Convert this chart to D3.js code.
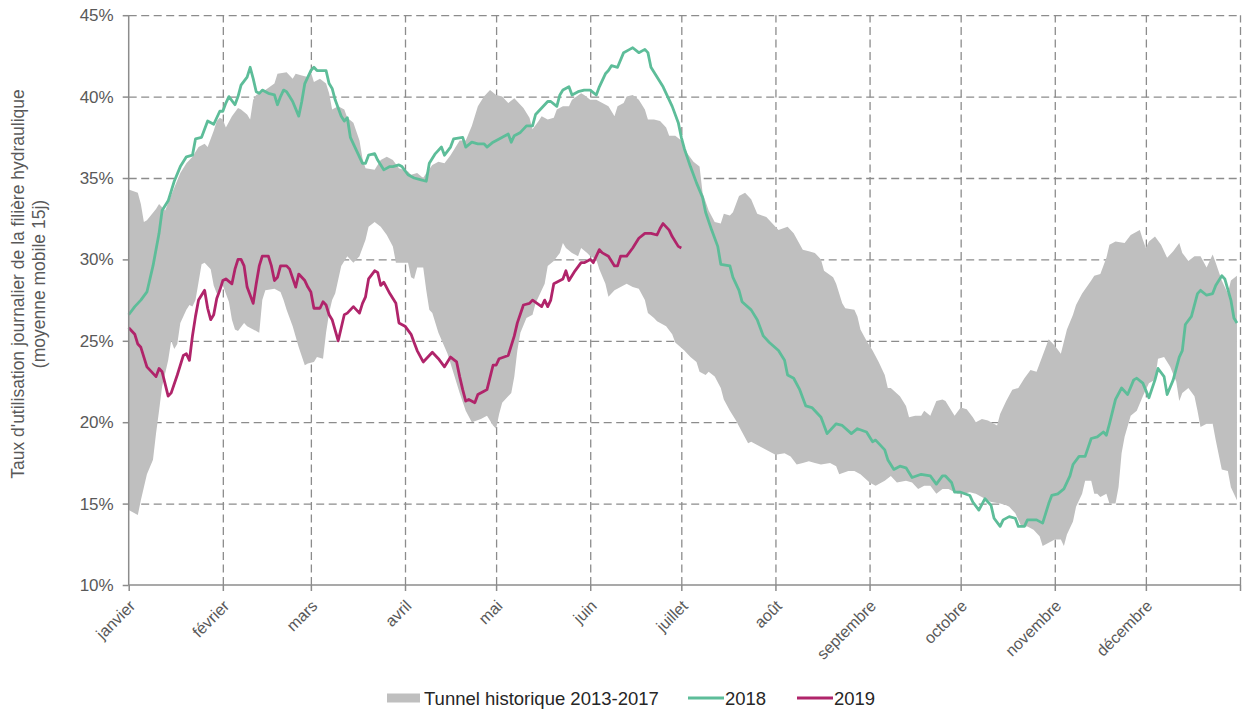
<!DOCTYPE html>
<html>
<head>
<meta charset="utf-8">
<script src="https://cdn.jsdelivr.net/npm/d3@7"></script>
<style>
  body { margin: 0; background: #fff; }
  text { font-family: "Liberation Sans", Arial, sans-serif; }
</style>
</head>
<body>
<div id="chart"></div>
<script>
// Taux d'utilisation de la filière hydraulique (jour de l'année, 0 = 1er janvier)

const moisJours = [0, 31, 60, 91, 121, 152, 182, 213, 244, 274, 305, 335, 366];
const moisLabels = ['janvier', 'février', 'mars', 'avril', 'mai', 'juin', 'juillet',
    'août', 'septembre', 'octobre', 'novembre', 'décembre'];
const yTicks = [10, 15, 20, 25, 30, 35, 40, 45];

// Tunnel historique 2013-2017 : bord haut
const hautJours = [0, 3, 4, 5, 6, 9, 10, 12, 15, 17, 19, 21, 23, 25, 26, 28, 29, 30, 31, 32, 34, 36, 37, 39, 40, 41, 42, 45, 48, 49,
    52, 54, 55, 57, 59, 60, 61, 63, 65, 66, 67, 69, 71, 72, 74, 76, 77, 78, 81, 83, 85, 87, 89, 92, 93, 95, 97, 98, 100, 102,
    104, 106, 109, 111, 113, 115, 117, 119, 121, 123, 125, 127, 128, 130, 132, 133, 135, 136, 138, 140, 141, 143, 145, 146, 149, 150, 152, 154, 156, 158,
    160, 161, 163, 164, 166, 168, 170, 171, 173, 175, 177, 178, 180, 182, 184, 186, 188, 189, 191, 193, 195, 196, 198, 199, 201, 203, 205, 207, 210, 212,
    214, 217, 219, 222, 224, 226, 228, 229, 232, 233, 235, 236, 239, 240, 241, 243, 245, 247, 249, 250, 251, 254, 256, 257, 259, 261, 262, 264, 266, 268,
    269, 272, 274, 276, 278, 279, 281, 283, 286, 287, 289, 291, 293, 295, 297, 299, 301, 303, 305, 307, 309, 311, 312, 314, 317, 318, 320, 322, 323, 325,
    328, 330, 333, 334, 335, 336, 338, 340, 342, 344, 346, 347, 349, 351, 353, 355, 357, 358, 360, 362, 363, 365];
const hautTaux = [34.3, 34.1, 33.4, 32.3, 32.4, 33.1, 33.4, 33.0, 34.4, 35.3, 35.9, 36.3, 36.9, 37.1, 36.9, 37.9, 38.5, 38.7, 38.6, 38.1, 38.8, 39.3, 39.2, 38.9, 38.6, 39.8, 40.1, 40.4, 40.8, 41.4,
    41.5, 41.1, 41.4, 41.3, 41.2, 41.5, 40.9, 41.1, 40.8, 40.2, 39.2, 39.4, 39.2, 38.7, 38.4, 37.3, 36.2, 35.6, 35.5, 36.1, 36.3, 36.1, 35.6, 35.4, 35.2, 35.3, 35.0, 35.3, 35.8, 36.0,
    35.9, 36.4, 37.3, 37.3, 38.2, 39.4, 40.0, 40.4, 40.1, 40.0, 39.6, 39.9, 39.7, 39.3, 38.7, 38.0, 38.5, 38.8, 38.6, 38.7, 39.2, 39.4, 39.4, 39.8, 40.2, 40.1, 39.8, 39.8, 39.6, 39.4,
    38.8, 39.4, 39.6, 40.0, 40.1, 39.8, 39.2, 38.6, 38.6, 38.5, 38.1, 37.6, 37.6, 37.3, 36.5, 36.0, 35.7, 34.1, 33.0, 32.3, 32.2, 32.8, 32.7, 32.9, 33.9, 34.1, 33.7, 32.8, 32.6, 32.2,
    31.8, 32.0, 31.6, 30.6, 30.5, 30.4, 30.0, 29.3, 28.9, 28.5, 27.3, 27.0, 26.9, 26.5, 25.7, 25.0, 24.4, 23.7, 22.9, 22.1, 22.1, 21.6, 21.0, 20.3, 20.4, 20.4, 20.7, 20.4, 21.3, 21.4,
    21.3, 20.4, 20.9, 20.8, 20.3, 20.0, 20.2, 20.1, 19.8, 20.5, 21.3, 22.0, 22.1, 22.7, 23.2, 23.1, 24.1, 25.1, 24.7, 24.2, 25.7, 26.6, 27.2, 27.9, 28.7, 29.0, 29.1, 30.1, 30.9, 31.1,
    31.0, 31.5, 31.8, 31.2, 30.7, 31.1, 31.4, 30.9, 30.1, 30.5, 31.0, 30.4, 29.9, 30.2, 30.2, 29.5, 30.3, 29.8, 28.7, 27.9, 28.7, 29.0];

// Tunnel historique 2013-2017 : bord bas
const basJours = [0, 3, 4, 5, 6, 8, 9, 10, 11, 13, 14, 15, 16, 17, 19, 20, 21, 22, 23, 24, 25, 26, 27, 28, 29, 30, 31, 33, 34, 35,
    36, 38, 39, 43, 44, 45, 48, 50, 51, 52, 54, 56, 58, 59, 61, 62, 64, 65, 66, 67, 68, 70, 72, 74, 76, 78, 79, 81, 83, 85,
    87, 88, 89, 92, 93, 94, 95, 97, 98, 99, 100, 102, 105, 107, 109, 111, 113, 116, 118, 120, 121, 122, 123, 126, 127, 128, 129, 131, 133, 134,
    137, 138, 140, 142, 143, 144, 146, 148, 149, 151, 152, 154, 155, 157, 158, 160, 162, 164, 166, 168, 170, 171, 173, 174, 177, 179, 180, 183, 185, 187,
    188, 190, 191, 193, 195, 196, 198, 200, 202, 204, 205, 207, 209, 211, 213, 216, 218, 220, 222, 224, 226, 228, 231, 233, 234, 237, 239, 241, 244, 246,
    249, 251, 253, 256, 258, 260, 262, 264, 266, 268, 270, 273, 275, 277, 279, 282, 284, 287, 289, 290, 292, 294, 296, 298, 300, 301, 303, 305, 307, 308,
    309, 311, 312, 314, 315, 317, 318, 319, 320, 322, 323, 325, 326, 327, 328, 330, 332, 334, 336, 338, 339, 341, 343, 345, 346, 347, 349, 351, 352, 353,
    355, 357, 358, 360, 362, 363, 365];
const basTaux = [14.6, 14.3, 15.2, 16.0, 16.8, 17.7, 19.3, 20.7, 22.2, 23.8, 25.0, 24.5, 24.8, 26.1, 26.9, 27.2, 27.1, 27.5, 28.6, 29.7, 29.8, 29.6, 29.4, 28.4, 27.9, 28.1, 28.4, 27.4, 26.3, 25.7,
    25.6, 26.1, 25.9, 25.5, 27.5, 28.1, 28.2, 28.0, 27.5, 26.9, 25.9, 24.6, 23.5, 23.6, 23.7, 24.0, 23.9, 25.5, 26.7, 27.5, 27.9, 29.6, 30.2, 29.8, 30.2, 31.2, 32.0, 32.3, 32.0, 31.5,
    30.8, 29.8, 29.8, 29.8, 28.9, 28.8, 29.5, 29.5, 28.1, 26.9, 26.7, 25.5, 24.2, 23.0, 21.8, 20.7, 20.0, 20.2, 20.4, 19.8, 19.6, 20.5, 21.2, 21.8, 22.8, 24.4, 25.5, 26.4, 26.6, 27.3,
    28.5, 29.6, 29.9, 30.4, 31.0, 30.7, 30.4, 30.2, 30.7, 30.4, 30.2, 30.0, 29.4, 28.5, 27.7, 28.1, 28.3, 28.5, 28.3, 28.2, 27.5, 26.7, 26.4, 26.2, 25.9, 25.4, 24.9, 24.4, 24.0, 23.7,
    23.1, 22.9, 23.1, 22.8, 22.1, 21.4, 20.7, 20.1, 19.4, 18.7, 18.8, 18.6, 18.4, 18.2, 18.0, 18.1, 17.9, 17.4, 17.5, 17.6, 17.5, 17.4, 17.5, 17.3, 16.8, 17.0, 17.0, 16.8, 16.3, 16.1,
    16.4, 16.7, 16.3, 16.4, 16.3, 15.9, 16.1, 16.1, 15.6, 15.9, 15.9, 15.6, 15.6, 15.7, 15.6, 15.3, 15.1, 15.0, 14.9, 14.8, 14.4, 13.6, 13.6, 13.4, 13.0, 12.4, 12.6, 12.8, 12.8, 12.4,
    13.1, 13.9, 14.8, 15.6, 16.4, 16.4, 15.6, 15.6, 15.4, 15.6, 15.0, 15.0, 16.0, 18.1, 19.1, 20.4, 20.7, 21.6, 22.4, 22.6, 23.9, 24.0, 23.4, 22.5, 21.3, 21.8, 22.1, 21.6, 20.7, 19.7,
    19.9, 19.9, 18.9, 17.1, 17.0, 16.0, 15.2];

// 2018
const jours2018 = [0, 2, 4, 6, 8, 10, 11, 13, 15, 17, 19, 21, 22, 24, 26, 28, 30, 31, 32, 33, 35, 36, 37, 39, 40, 41, 42, 43, 44, 46,
    48, 49, 50, 51, 52, 53, 54, 56, 57, 58, 60, 61, 62, 65, 66, 67, 68, 70, 71, 72, 73, 75, 77, 78, 79, 81, 82, 84, 86, 87,
    89, 90, 92, 94, 96, 98, 99, 101, 103, 104, 106, 107, 110, 111, 113, 115, 117, 118, 120, 122, 125, 126, 127, 129, 131, 132, 133, 134, 136, 138,
    139, 141, 142, 143, 145, 146, 148, 150, 152, 154, 155, 157, 158, 159, 161, 163, 165, 166, 168, 170, 171, 172, 174, 176, 177, 179, 181, 182, 183, 185,
    187, 189, 190, 192, 194, 195, 198, 199, 201, 202, 205, 207, 209, 211, 214, 216, 217, 219, 221, 223, 225, 228, 230, 233, 235, 238, 240, 243, 245, 246,
    249, 250, 252, 254, 256, 258, 261, 264, 266, 268, 269, 271, 272, 274, 277, 278, 280, 282, 284, 285, 287, 288, 290, 292, 293, 295, 296, 298, 299, 301,
    303, 304, 306, 308, 310, 311, 313, 315, 317, 319, 321, 322, 323, 325, 327, 329, 331, 332, 334, 336, 338, 339, 341, 342, 344, 346, 347, 348, 350, 352,
    353, 355, 357, 358, 360, 361, 363, 364, 365];
const taux2018 = [26.6, 27.1, 27.5, 28.0, 29.6, 31.6, 33.0, 33.6, 34.8, 35.7, 36.3, 36.4, 37.4, 37.5, 38.5, 38.3, 39.1, 39.1, 39.6, 40.0, 39.5, 40.0, 40.7, 41.2, 41.8, 41.1, 40.3, 40.2, 40.4, 40.2,
    40.1, 39.5, 40.0, 40.4, 40.3, 40.0, 39.7, 38.8, 39.7, 40.8, 41.6, 41.8, 41.6, 41.6, 40.8, 40.5, 39.8, 38.8, 38.5, 38.7, 37.5, 36.7, 35.9, 35.9, 36.4, 36.5, 36.1, 35.5, 35.7, 35.7,
    35.8, 35.7, 35.2, 35.0, 34.9, 34.8, 35.9, 36.5, 36.9, 36.4, 36.9, 37.4, 37.5, 36.9, 37.2, 37.1, 37.1, 36.9, 37.2, 37.4, 37.7, 37.2, 37.6, 37.8, 38.2, 38.2, 38.2, 38.9, 39.3, 39.7,
    39.7, 39.4, 40.1, 40.4, 40.6, 40.1, 40.3, 40.4, 40.4, 40.1, 40.6, 41.4, 41.6, 41.9, 41.8, 42.7, 42.9, 43.0, 42.7, 42.9, 42.7, 41.8, 41.2, 40.6, 40.2, 39.4, 38.4, 37.5, 36.8, 35.7,
    34.7, 33.8, 32.9, 31.8, 30.8, 29.7, 29.6, 28.9, 28.1, 27.4, 26.9, 26.3, 25.3, 24.9, 24.4, 23.8, 22.9, 22.7, 22.0, 21.0, 20.9, 20.3, 19.3, 19.9, 19.8, 19.3, 19.6, 19.4, 18.8, 18.9,
    18.3, 17.7, 17.1, 17.3, 17.2, 16.6, 16.8, 16.7, 16.2, 16.7, 16.7, 16.3, 15.7, 15.7, 15.5, 15.1, 14.6, 15.3, 14.9, 14.1, 13.6, 14.0, 14.2, 14.1, 13.6, 13.6, 14.0, 14.0, 14.0, 13.8,
    15.0, 15.5, 15.6, 15.9, 16.7, 17.4, 17.9, 17.9, 19.0, 19.1, 19.4, 19.2, 19.9, 21.4, 22.1, 21.7, 22.6, 22.7, 22.4, 21.5, 22.6, 23.3, 22.8, 21.7, 22.6, 24.0, 24.4, 26.0, 26.5, 27.9,
    28.1, 27.8, 27.9, 28.4, 29.0, 28.8, 27.5, 26.4, 26.1];

// 2019
const jours2019 = [0, 2, 3, 4, 6, 7, 9, 10, 11, 13, 14, 16, 18, 19, 20, 21, 22, 23, 25, 26, 27, 28, 29, 30, 31, 32, 34, 35, 36, 37,
    38, 39, 41, 42, 43, 44, 46, 47, 48, 49, 50, 52, 53, 55, 56, 58, 59, 60, 61, 63, 64, 65, 66, 67, 69, 70, 71, 72, 74, 76,
    77, 78, 79, 81, 82, 83, 84, 86, 88, 89, 91, 93, 94, 95, 97, 98, 100, 102, 104, 106, 108, 109, 110, 111, 112, 114, 115, 117, 118, 120,
    121, 122, 125, 127, 128, 130, 132, 133, 136, 137, 138, 139, 140, 143, 144, 145, 147, 149, 150, 152, 153, 155, 156, 158, 160, 161, 162, 164, 166, 168,
    170, 172, 174, 175, 176, 178, 179, 181, 182];
const taux2019 = [25.8, 25.4, 24.8, 24.6, 23.4, 23.2, 22.8, 23.3, 23.1, 21.6, 21.8, 22.9, 24.1, 24.2, 23.8, 25.3, 26.5, 27.5, 28.1, 27.0, 26.3, 26.6, 27.6, 28.1, 28.7, 28.8, 28.5, 29.4, 30.0, 30.0,
    29.6, 28.3, 27.3, 28.5, 29.6, 30.2, 30.2, 29.6, 28.7, 28.9, 29.6, 29.6, 29.4, 28.3, 29.1, 28.7, 28.3, 28.0, 27.0, 27.0, 27.4, 27.2, 26.6, 26.3, 25.0, 25.8, 26.6, 26.7, 27.1, 26.7,
    27.3, 27.7, 28.8, 29.3, 29.2, 28.4, 28.6, 27.9, 27.3, 26.1, 25.9, 25.4, 24.9, 24.4, 23.7, 23.9, 24.3, 23.9, 23.4, 24.0, 23.7, 22.8, 22.0, 21.3, 21.4, 21.2, 21.7, 21.9, 22.0, 23.5,
    23.5, 23.9, 24.1, 25.3, 26.1, 27.2, 27.3, 27.5, 27.1, 27.5, 27.1, 27.5, 28.5, 28.8, 29.3, 28.7, 29.3, 29.8, 29.8, 30.0, 29.8, 30.6, 30.4, 30.2, 29.6, 29.6, 30.2, 30.2, 30.7, 31.3,
    31.6, 31.6, 31.5, 31.9, 32.2, 31.8, 31.4, 30.8, 30.7];

const couleurTunnel = '#bfbfbf';
const couleur2018 = '#5dbd99';
const couleur2019 = '#b0246a';
const gris = '#8c8c8c';
const texte = '#595959';

function drawChart() {
    const width = 1249;
    const height = 713;
    const left = 128.7, right = 1240, top = 15.2, bottom = 585;

    const svg = d3.select('#chart').append('svg')
        .attr('width', width)
        .attr('height', height);

    const x = d3.scaleLinear().domain([0, 366]).range([left, right]);
    const y = d3.scaleLinear().domain([10, 45]).range([bottom, top]);

    // Grille
    const gridY = svg.append('g')
        .attr('transform', `translate(${left},0)`)
        .call(d3.axisLeft(y).tickValues(yTicks.slice(1)).tickSize(-(right - left)).tickFormat(''));
    const gridX = svg.append('g')
        .attr('transform', `translate(0,${bottom})`)
        .call(d3.axisBottom(x).tickValues(moisJours.slice(1)).tickSize(-(bottom - top)).tickFormat(''));
    [gridY, gridX].forEach(g => {
        g.select('.domain').remove();
        g.selectAll('.tick line')
            .attr('stroke', gris)
            .attr('stroke-width', 1.3)
            .attr('stroke-dasharray', '8,4.5');
    });

    // Tunnel historique
    const tunnel = hautJours.map((d, i) => [d, hautTaux[i]])
        .concat(basJours.map((d, i) => [d, basTaux[i]]).reverse());
    const poly = d3.line().x(d => x(d[0])).y(d => y(d[1]));
    svg.append('path')
        .attr('d', poly(tunnel) + 'Z')
        .attr('fill', couleurTunnel);

    // Courbes
    const line = d3.line().x(d => x(d[0])).y(d => y(d[1]));
    svg.append('path')
        .attr('d', line(jours2018.map((d, i) => [d, taux2018[i]])))
        .attr('fill', 'none')
        .attr('stroke', couleur2018)
        .attr('stroke-width', 2.8)
        .attr('stroke-linejoin', 'round');
    svg.append('path')
        .attr('d', line(jours2019.map((d, i) => [d, taux2019[i]])))
        .attr('fill', 'none')
        .attr('stroke', couleur2019)
        .attr('stroke-width', 2.8)
        .attr('stroke-linejoin', 'round');

    // Axe Y
    const axeY = svg.append('g')
        .attr('transform', `translate(${left},0)`)
        .call(d3.axisLeft(y).tickValues(yTicks).tickSize(6).tickPadding(9).tickFormat(d => d + '%'));
    axeY.selectAll('text')
        .attr('fill', texte)
        .style('font-size', '17px');

    // Axe X
    const axeX = svg.append('g')
        .attr('transform', `translate(0,${bottom})`)
        .call(d3.axisBottom(x).tickValues(moisJours).tickSize(6).tickFormat((d, i) => moisLabels[i] || ''));
    axeX.selectAll('text')
        .attr('fill', texte)
        .attr('x', 0)
        .attr('y', 0)
        .attr('dy', 0)
        .attr('transform', 'translate(7,22) rotate(-45)')
        .style('text-anchor', 'end')
        .style('font-size', '16px');

    [axeY, axeX].forEach(g => {
        g.selectAll('.domain, .tick line')
            .attr('stroke', gris)
            .attr('stroke-width', 1.5);
    });
    axeX.select('.domain').attr('d', `M${left},0H${right}`);
    axeY.select('.domain').attr('d', `M0,${bottom}V${top}`);

    // Titre de l'axe Y
    const titre = svg.append('text')
        .attr('transform', 'translate(24,284) rotate(-90)')
        .attr('text-anchor', 'middle')
        .attr('fill', texte)
        .style('font-size', '17.5px');
    titre.append('tspan').attr('x', 0).attr('dy', 0).text("Taux d'utilisation journalier de la filière hydraulique");
    titre.append('tspan').attr('x', 0).attr('dy', 21).text('(moyenne mobile 15j)');

    // Légende
    const leg = svg.append('g').style('font-size', '18.5px').attr('fill', '#262626');
    leg.append('rect')
        .attr('x', 387).attr('y', 693.5)
        .attr('width', 33).attr('height', 9)
        .attr('fill', couleurTunnel);
    leg.append('text').attr('x', 424).attr('y', 705).text('Tunnel historique 2013-2017');
    leg.append('line').attr('x1', 688).attr('x2', 724).attr('y1', 698).attr('y2', 698)
        .attr('stroke', couleur2018).attr('stroke-width', 2.8);
    leg.append('text').attr('x', 725).attr('y', 705).text('2018');
    leg.append('line').attr('x1', 797).attr('x2', 833).attr('y1', 698).attr('y2', 698)
        .attr('stroke', couleur2019).attr('stroke-width', 2.8);
    leg.append('text').attr('x', 834).attr('y', 705).text('2019');
}

drawChart();
</script>
</body>
</html>
